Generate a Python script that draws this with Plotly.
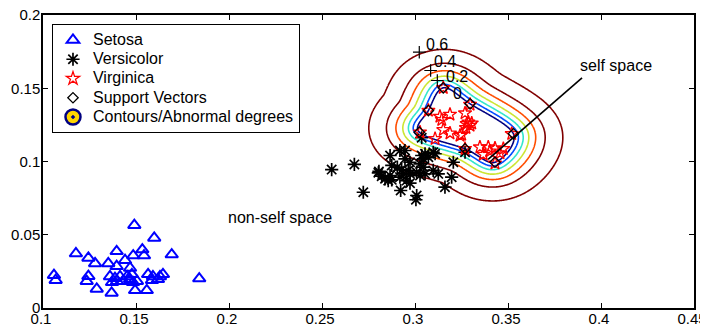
import numpy as np
import plotly.graph_objects as go

# ---------------- data ----------------
setosa_x = [0.1491, 0.1598, 0.1177, 0.1244, 0.1280, 0.1396, 0.1351, 0.1441, 0.1485, 0.1534,
            0.1543, 0.1692, 0.1396, 0.1468, 0.1059, 0.1068, 0.1244, 0.1235, 0.1289, 0.1369,
            0.1495, 0.1558, 0.1360, 0.1387, 0.1414, 0.1452, 0.1478, 0.1468, 0.1371, 0.1398,
            0.1430, 0.1484, 0.1505, 0.1565, 0.1591, 0.1629, 0.1645, 0.1586, 0.1618, 0.1840]
setosa_y = [0.0565, 0.0478, 0.0372, 0.0342, 0.0304, 0.0387, 0.0304, 0.0326, 0.0358, 0.0399,
            0.0358, 0.0365, 0.0285, 0.0273, 0.0224, 0.0190, 0.0217, 0.0183, 0.0130, 0.0103,
            0.0121, 0.0121, 0.0215, 0.0203, 0.0215, 0.0215, 0.0230, 0.0196, 0.0175, 0.0183,
            0.0183, 0.0175, 0.0183, 0.0230, 0.0215, 0.0215, 0.0230, 0.0190, 0.0196, 0.0201]

versicolor_x = [0.2552, 0.2674, 0.2722, 0.2803, 0.2821, 0.2839, 0.2866, 0.2856, 0.2875, 0.2866,
                0.2875, 0.2928, 0.2937, 0.2964, 0.2973, 0.2919, 0.2955, 0.2973, 0.2946, 0.2923,
                0.3009, 0.3005, 0.3036, 0.3054, 0.3072, 0.3027, 0.3045, 0.3054, 0.3027, 0.3009,
                0.3108, 0.3098, 0.3125, 0.3161, 0.3197, 0.3206, 0.2946, 0.2806, 0.2973, 0.2905,
                0.3036, 0.3269, 0.3098, 0.2919, 0.3045]
versicolor_y = [0.0945, 0.0980, 0.0790, 0.0923, 0.0900, 0.0882, 0.0904, 0.0870, 0.0875, 0.1041,
                0.0973, 0.0943, 0.0916, 0.0939, 0.0916, 0.0893, 0.0870, 0.0852, 0.1075, 0.0802,
                0.0768, 0.0739, 0.1041, 0.1053, 0.1029, 0.0984, 0.0961, 0.0916, 0.0904, 0.0927,
                0.1053, 0.0939, 0.0916, 0.0825, 0.0893, 0.0995, 0.1018, 0.0932, 0.0995, 0.0961,
                0.1162, 0.1063, 0.1063, 0.1075, 0.1018]

virginica_x = [0.3152, 0.3296, 0.3072, 0.3134, 0.3144, 0.3188, 0.3269, 0.3278, 0.3287, 0.3296,
               0.3305, 0.3152, 0.3188, 0.3242, 0.3251, 0.3108, 0.3027, 0.3269, 0.3349, 0.3394,
               0.3430, 0.3403, 0.3457, 0.3475, 0.3520, 0.3430, 0.3367, 0.3274]
virginica_y = [0.1503, 0.1389, 0.1348, 0.1307, 0.1285, 0.1321, 0.1330, 0.1257, 0.1268, 0.1246,
               0.1261, 0.1216, 0.1193, 0.1177, 0.1184, 0.1155, 0.1200, 0.1087, 0.1098, 0.1098,
               0.1091, 0.1070, 0.1057, 0.1087, 0.1189, 0.0988, 0.1048, 0.1230]

sv_x = [0.3152, 0.3296, 0.3072, 0.3023, 0.3269, 0.3529, 0.3430]
sv_y = [0.1503, 0.1394, 0.1348, 0.1200, 0.1087, 0.1189, 0.0995]

contour_levels = [0.0, 0.1, 0.2, 0.3, 0.4, 0.5, 0.6]
level_colors = ["#000080", "#002BFF", "#00D5FF", "#80FF80", "#FFD500", "#FF2B00", "#800000"]

label_text = ["0.6", "0.4", "0.2", "0"]
label_plus_x = [0.3023, 0.3084, 0.3120]
label_plus_y = [0.1746, 0.1621, 0.1553]
label_text_x = [0.3117, 0.3161, 0.3227, 0.3227]
label_text_y = [0.1799, 0.1680, 0.1580, 0.1466]

legend_names = ["Setosa", "Versicolor", "Virginica", "Support Vectors", "Contours/Abnormal degrees"]

x_ticks = [0.1, 0.15, 0.2, 0.25, 0.3, 0.35, 0.4, 0.45]
x_ticktext = ["0.1", "0.15", "0.2", "0.25", "0.3", "0.35", "0.4", "0.45"]
y_ticks = [0, 0.05, 0.1, 0.15, 0.2]
y_ticktext = ["0", "0.05", "0.1", "0.15", "0.2"]

# ---------------- abnormal-degree field: distance outside the support-vector boundary ----------------
svx = np.array(sv_x)
svy = np.array(sv_y)
cx, cy = svx.mean(), svy.mean()
order = np.argsort(np.arctan2(svy - cy, svx - cx))
bx, by = svx[order], svy[order]
m = len(bx)
# closed Catmull-Rom curve through the support vectors
t = np.linspace(0, 1, 40, endpoint=False)
cur_x, cur_y = [], []
for i in range(m):
    p0 = np.array([bx[(i - 1) % m], by[(i - 1) % m]])
    p1 = np.array([bx[i], by[i]])
    p2 = np.array([bx[(i + 1) % m], by[(i + 1) % m]])
    p3 = np.array([bx[(i + 2) % m], by[(i + 2) % m]])
    for tt in t:
        pt = 0.5 * ((2 * p1) + (-p0 + p2) * tt + (2 * p0 - 5 * p1 + 4 * p2 - p3) * tt ** 2
                    + (-p0 + 3 * p1 - 3 * p2 + p3) * tt ** 3)
        cur_x.append(pt[0])
        cur_y.append(pt[1])
cur_x = np.array(cur_x)
cur_y = np.array(cur_y)

gx = np.linspace(0.23, 0.44, 421)
gy = np.linspace(0.03, 0.2, 341)
GX, GY = np.meshgrid(gx, gy)
dmin = np.full(GX.shape, np.inf)
inside = np.zeros(GX.shape, dtype=bool)
nc = len(cur_x)
for i in range(nc):
    ax_, ay_ = cur_x[i], cur_y[i]
    bx_, by_ = cur_x[(i + 1) % nc], cur_y[(i + 1) % nc]
    vx, vy = bx_ - ax_, by_ - ay_
    tt = np.clip(((GX - ax_) * vx + (GY - ay_) * vy) / (vx * vx + vy * vy), 0, 1)
    dd = np.hypot(GX - (ax_ + tt * vx), GY - (ay_ + tt * vy))
    dmin = np.minimum(dmin, dd)
    cond = ((ay_ > GY) != (by_ > GY)) & (GX < (bx_ - ax_) * (GY - ay_) / (by_ - ay_ + 1e-15) + ax_)
    inside ^= cond
d = np.where(inside, -dmin, dmin)

C = 0.65
r0 = 0.0327
s2 = 0.000935
q = 2 * r0 * d + np.maximum(d, 0) ** 2
Z = C * (1.0 - np.exp(-q / s2))

FONT = "Arial, Liberation Sans, sans-serif"


def lg(name):
    return '<span style="font-size:16px">' + name + "</span>"


fig = go.Figure()

fig.add_trace(go.Scatter(
    x=setosa_x, y=setosa_y, mode="markers", name=lg(legend_names[0]),
    marker=dict(symbol="triangle-up-open", size=11, color="#0000FF", line=dict(width=2, color="#0000FF")),
))
fig.add_trace(go.Scatter(
    x=versicolor_x, y=versicolor_y, mode="markers", name=lg(legend_names[1]),
    marker=dict(symbol="asterisk-open", size=11, color="black", line=dict(width=1.7, color="black")),
))
fig.add_trace(go.Scatter(
    x=virginica_x, y=virginica_y, mode="markers", name=lg(legend_names[2]),
    marker=dict(symbol="star-open", size=10, color="#FF0000", line=dict(width=1.3, color="#FF0000")),
))
fig.add_trace(go.Scatter(
    x=sv_x, y=sv_y, mode="markers", name=lg(legend_names[3]),
    marker=dict(symbol="diamond-open", size=8, color="black", line=dict(width=1.3, color="black")),
))

n = len(contour_levels) - 1
cscale = [[i / n, c] for i, c in enumerate(level_colors)]
fig.add_trace(go.Contour(
    x=gx, y=gy, z=Z, autocontour=False,
    contours=dict(start=contour_levels[0], end=contour_levels[-1], size=0.1, coloring="lines", showlabels=False),
    colorscale=cscale, zmin=contour_levels[0], zmax=contour_levels[-1], showscale=False,
    line=dict(width=1.6, smoothing=1.3), hoverinfo="skip", showlegend=False,
))
# legend entry for the contours
fig.add_trace(go.Scatter(
    x=[None], y=[None], mode="markers", name=lg(legend_names[4]),
    marker=dict(symbol="circle-dot", size=15, color="#FFD500", line=dict(width=2.5, color="#000080")),
))
# contour label crosses
fig.add_trace(go.Scatter(
    x=label_plus_x, y=label_plus_y, mode="markers", showlegend=False, hoverinfo="skip",
    marker=dict(symbol="cross-thin-open", size=9, color="black", line=dict(width=1.2, color="black")),
))

for tx, lx, ly in zip(label_text, label_text_x, label_text_y):
    fig.add_annotation(x=lx, y=ly, text=tx, showarrow=False, font=dict(family=FONT, size=16, color="black"))

fig.add_annotation(x=0.408, y=0.1655, text="self space", showarrow=False,
                   font=dict(family=FONT, size=16, color="black"))
fig.add_annotation(x=0.2276, y=0.062, text="non-self space", showarrow=False,
                   font=dict(family=FONT, size=16, color="black"))
fig.add_shape(type="line", x0=0.3393, y0=0.1014, x1=0.3898, y1=0.1571,
              line=dict(color="black", width=1.6), xref="x", yref="y")

axis_common = dict(showline=True, linecolor="black", linewidth=1.5, mirror="ticks",
                   ticks="inside", ticklen=5, tickwidth=1, tickcolor="black",
                   showgrid=False, zeroline=False, automargin=False,
                   ticklabeloverflow="allow",
                   tickfont=dict(family=FONT, size=15, color="black"))
fig.update_xaxes(range=[0.1, 0.45], tickvals=x_ticks, ticktext=x_ticktext,
                 ticklabelstandoff=-4, ticklabelshift=-2, **axis_common)
fig.update_yaxes(range=[0, 0.2], tickvals=y_ticks, ticktext=y_ticktext,
                 ticklabelstandoff=-2, **axis_common)

# the page body adds an 8px offset, so the figure is 8px smaller and margins compensate
fig.update_layout(
    width=700, height=318,
    margin=dict(l=35, r=14, t=7, b=18),
    paper_bgcolor="white", plot_bgcolor="white",
    font=dict(family=FONT, size=15, color="black"),
    legend=dict(x=0.0138, y=0.968, xanchor="left", yanchor="top",
                bgcolor="white", bordercolor="black", borderwidth=1,
                font=dict(family=FONT, size=12.5, color="black"), tracegroupgap=0,
                itemwidth=30),
    showlegend=True,
)

fig.write_html("out.html")
